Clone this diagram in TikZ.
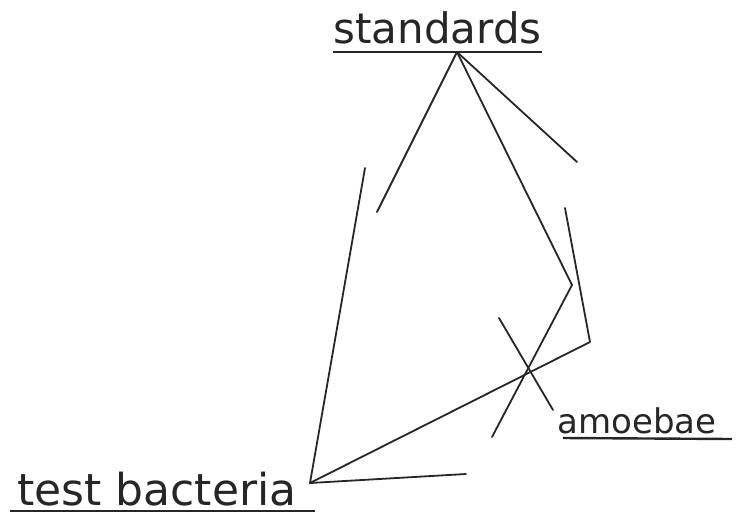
\documentclass[tikz,border=0pt]{standalone}
\usepackage{fontspec}
\setmainfont{DejaVu Sans}
\usetikzlibrary{calc}

\begin{document}
\begin{tikzpicture}[
  x=0.5pt,y=-0.5pt,
  lbl/.style={anchor=base west,inner sep=0pt,text=black!85},
  rule/.style={line width=1.2pt,black!85},
  edge/.style={line width=0.9pt,black!85,line cap=round,line join=round}]
\useasboundingbox (0,0) rectangle (736,516);

% the three corner labels
\node[lbl,font=\fontsize{21pt}{24pt}\selectfont] (std) at (333,43) {standards};
\node[lbl,font=\fontsize{22pt}{26pt}\selectfont] (bact) at (17,505) {test bacteria};
\node[lbl,font=\fontsize{17pt}{20pt}\selectfont] (amoe) at (557,433) {amoebae};

\draw[rule] ([yshift=-4.5pt]std.base west) -- ([yshift=-4.5pt]std.base east);
\draw[rule] ([xshift=-3.5pt,yshift=-3pt]bact.base west) -- ([xshift=9pt,yshift=-3pt]bact.base east);
\draw[rule] ([xshift=3pt,yshift=-2.5pt]amoe.base west) -- ([xshift=7.5pt,yshift=-3pt]amoe.base east);

% vertices and free ends
\coordinate (s) at (457,52);
\coordinate (b) at (310,483);
\coordinate (a) at (553,410);
\coordinate (s1) at (377,212);
\coordinate (s2) at (577,162);
\coordinate (s3) at (572,285);
\coordinate (s4) at (492,437);
\coordinate (b1) at (365,168);
\coordinate (b2) at (590,342);
\coordinate (b3) at (565,208);
\coordinate (b4) at (466,474);
\coordinate (a1) at (499,318);

\draw[edge] (s) -- (s1);
\draw[edge] (s) -- (s2);
\draw[edge] (s) -- (s3) -- (s4);
\draw[edge] (b) -- (b1);
\draw[edge] (b) -- (b2) -- (b3);
\draw[edge] (b) -- (b4);
\draw[edge] (a) -- (a1);
\end{tikzpicture}
\end{document}
